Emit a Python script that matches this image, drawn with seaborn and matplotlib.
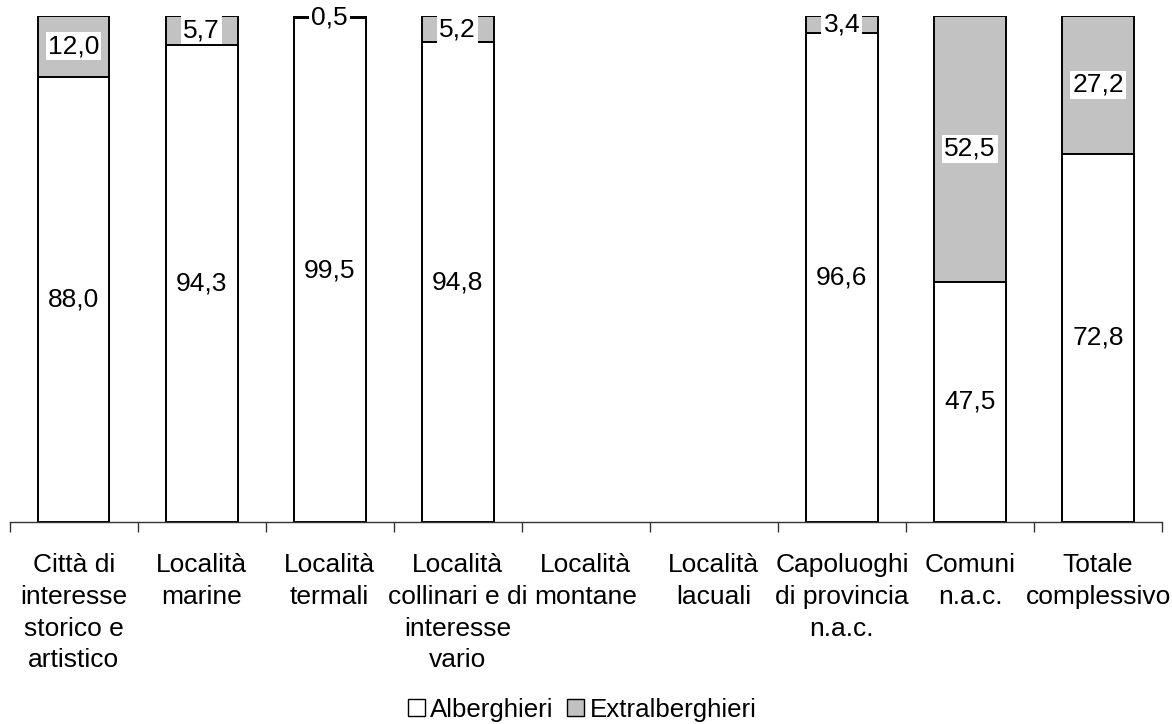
import numpy as np
import pandas as pd
import matplotlib
matplotlib.use("Agg")
import matplotlib.pyplot as plt
import seaborn as sns
from matplotlib.patches import Patch

sns.set_style("white")
plt.rcParams["font.family"] = ["Liberation Sans", "DejaVu Sans"]
plt.rcParams["text.color"] = "black"
plt.rcParams["xtick.color"] = "black"

categorie = [
    "Città di\ninteresse\nstorico e\nartistico",
    "Località\nmarine",
    "Località\ntermali",
    "Località\ncollinari e di\ninteresse\nvario",
    "Località\nmontane",
    "Località\nlacuali",
    "Capoluoghi\ndi provincia\nn.a.c.",
    "Comuni\nn.a.c.",
    "Totale\ncomplessivo",
]
alberghieri = [88.0, 94.3, 99.5, 94.8, np.nan, np.nan, 96.6, 47.5, 72.8]
extralberghieri = [12.0, 5.7, 0.5, 5.2, np.nan, np.nan, 3.4, 52.5, 27.2]

df = pd.DataFrame({
    "categoria": categorie,
    "Alberghieri": alberghieri,
    "Extralberghieri": extralberghieri,
})
df["totale"] = df["Alberghieri"] + df["Extralberghieri"]

grigio = "#c2c2c2"
fs = 19

fig = plt.figure(figsize=(11.72, 7.24), dpi=100)
ax = fig.add_axes([0.0082, 0.279, 0.9833, 0.699])

# stacked bars: full height in grey, white lower segment on top
sns.barplot(data=df, x="categoria", y="totale", order=categorie, color=grigio,
            saturation=1, width=0.56, edgecolor="black", linewidth=1.4,
            errorbar=None, ax=ax)
sns.barplot(data=df, x="categoria", y="Alberghieri", order=categorie, color="white",
            saturation=1, width=0.56, edgecolor="black", linewidth=1.4,
            errorbar=None, ax=ax)

box = dict(facecolor="white", edgecolor="none", pad=1.5)
for i, (a, e) in enumerate(zip(alberghieri, extralberghieri)):
    if np.isnan(a):
        continue
    ax.text(i, a / 2, f"{a:.1f}".replace(".", ","), ha="center", va="center",
            fontsize=fs, bbox=box)
    ax.text(i, a + e / 2, f"{e:.1f}".replace(".", ","), ha="center", va="center",
            fontsize=fs, bbox=box)

ax.set_xlim(-0.5, len(categorie) - 0.5)
ax.set_ylim(0, 100)
ax.set_xlabel("")
ax.set_ylabel("")
ax.set_yticks([])
ax.set_xticks(range(len(categorie)))
ax.set_xticklabels(categorie, fontsize=fs, linespacing=1.42)
ax.set_xticks(np.arange(-0.5, len(categorie), 1), minor=True)
ax.tick_params(axis="x", which="major", length=0, pad=22)
ax.tick_params(axis="x", which="minor", length=7, width=1, color="#333333",
               direction="out", bottom=True)
for s in ["top", "right", "left"]:
    ax.spines[s].set_visible(False)
ax.spines["bottom"].set_color("#333333")
ax.spines["bottom"].set_linewidth(1)

handles = [Patch(facecolor="white", edgecolor="black", linewidth=1),
           Patch(facecolor=grigio, edgecolor="black", linewidth=1)]
fig.legend(handles, ["Alberghieri", "Extralberghieri"], loc="lower center",
           bbox_to_anchor=(0.4966, -0.018), ncol=2, frameon=False, fontsize=18.6,
           handlelength=0.68, handleheight=0.68, handletextpad=0.2,
           columnspacing=0.5, borderaxespad=0.2)

fig.savefig("out.png", dpi=100)
